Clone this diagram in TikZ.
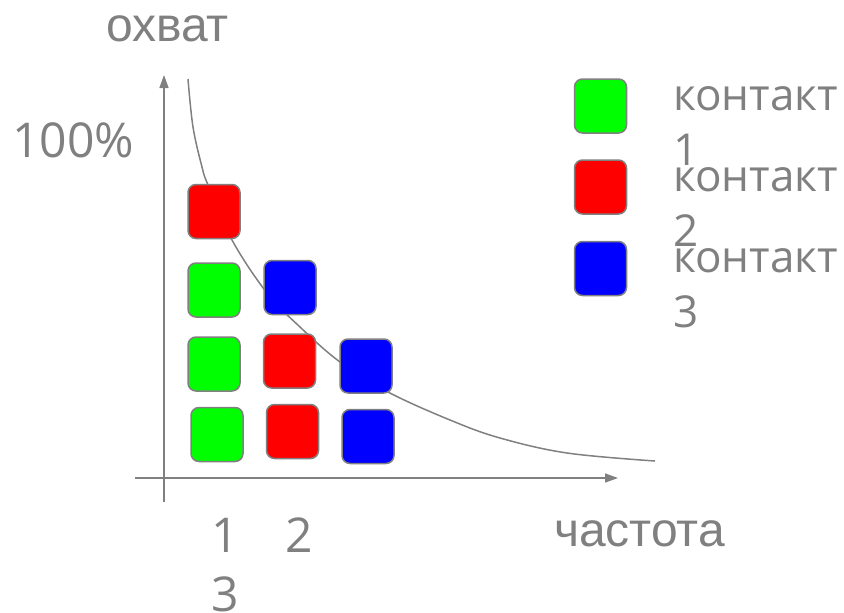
\documentclass[tikz,border=0pt]{standalone}
\usepackage{fontspec}
\setmainfont{Liberation Sans}
\newfontfamily\osans{Open Sans}
\usetikzlibrary{arrows.meta}
\definecolor{lg}{HTML}{808080}
\definecolor{cgreen}{HTML}{00FF00}
\definecolor{cred}{HTML}{FF0000}
\definecolor{cblue}{HTML}{0000FF}
\begin{document}
\begin{tikzpicture}[x=1pt,y=-1pt,
  sq/.style={draw=lg, line width=1.5pt, rounded corners=8pt, minimum width=52pt, minimum height=54pt, inner sep=0pt},
  ax/.style={draw=lg, line width=1.5pt, -{Triangle[length=13pt,width=9pt]}},
  lbl/.style={text=lg, inner sep=0pt},
  big/.style={font=\fontsize{48}{58}\selectfont},
  leg/.style={font=\osans\fontsize{44}{55}\selectfont, align=left},
  num/.style={font=\osans\fontsize{48}{59}\selectfont, align=left}]
\useasboundingbox (0,0) rectangle (844,613);
% axes
\coordinate (ybot) at (164,502);
\coordinate (ytop) at (164,75);
\coordinate (xl) at (135,478);
\coordinate (xr) at (618,478);
\draw[ax] (ybot) -- (ytop);
\draw[ax] (xl) -- (xr);
% curve
\draw[lg, line width=1.5pt] plot[smooth, tension=0.6] coordinates {(188,79) (193,127) (202,167) (208,185) (232,240) (267,293) (300,327) (340,362) (388,392) (450,420) (500,438) (567,453) (655,461)};
% squares
\node[sq, fill=cred]   (r1)  at (214,211.5) {};
\node[sq, fill=cgreen] (g2)  at (214,290) {};
\node[sq, fill=cblue]  (b2)  at (290,287.5) {};
\node[sq, fill=cgreen] (g3)  at (214,364) {};
\node[sq, fill=cred]   (r3)  at (289.5,361) {};
\node[sq, fill=cblue]  (b3)  at (366,366) {};
\node[sq, fill=cgreen] (g4)  at (217,434.5) {};
\node[sq, fill=cred]   (r4)  at (292.5,431.5) {};
\node[sq, fill=cblue]  (b4)  at (368,436.5) {};
% legend
\node[sq, fill=cgreen] (lg1) at (600.5,106) {};
\node[sq, fill=cred]   (lg2) at (600.5,187) {};
\node[sq, fill=cblue]  (lg3) at (600.5,268.5) {};
\node[lbl, leg, anchor=north west] (t1) at (673,86) {контакт\\1};
\node[lbl, leg, anchor=north west] (t2) at (673,167) {контакт\\2};
\node[lbl, leg, anchor=north west] (t3) at (673,248) {контакт\\3};
% labels
\node[lbl, big, anchor=base west] (oxv) at (106,41) {охват};
\node[lbl, num, anchor=base west] (pct) at (12,157) {100\%};
\node[lbl, big, anchor=base west] (chs) at (554,546) {частота};
\node[lbl, num, anchor=north west] (nums) at (211,518) {1\hspace{47pt}2\\3};
\end{tikzpicture}
\end{document}
